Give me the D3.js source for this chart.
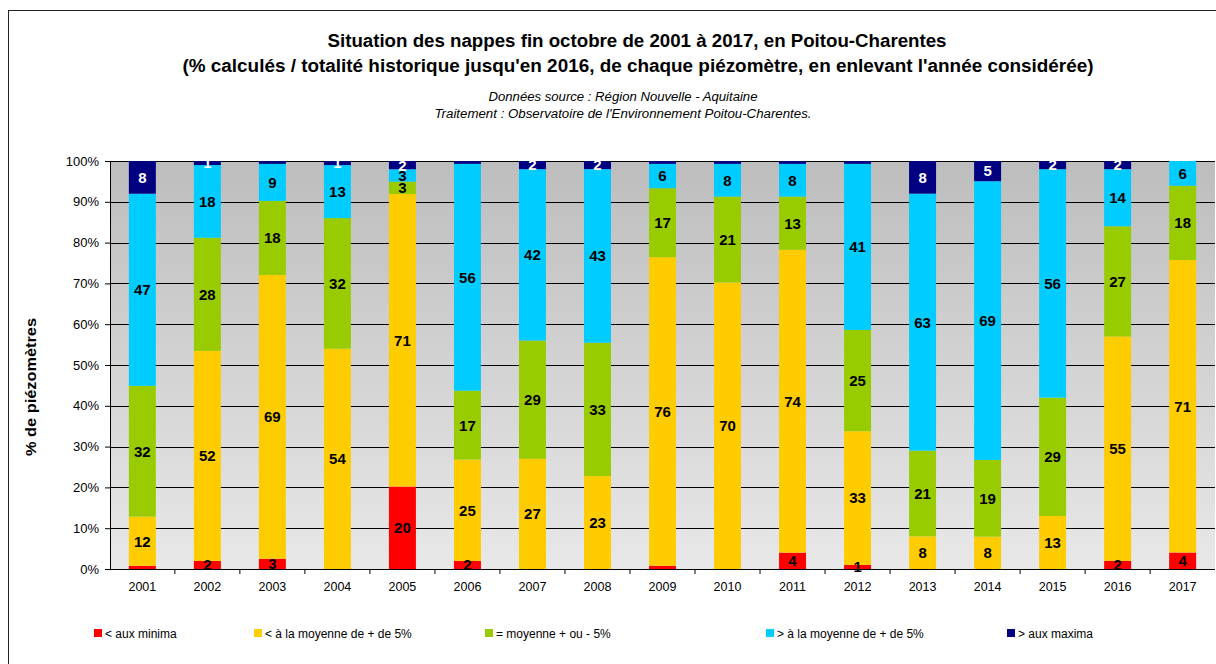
<!DOCTYPE html>
<html>
<head>
<meta charset="utf-8">
<script src="https://cdn.jsdelivr.net/npm/d3@7"></script>
<style>
  body { margin: 0; background: #fff; }
  svg { display: block; font-family: "Liberation Sans", Arial, sans-serif; }
</style>
</head>
<body>
<div id="chart"></div>
<script>
// years on the x axis
var years = ["2001","2002","2003","2004","2005","2006","2007","2008","2009",
             "2010","2011","2012","2013","2014","2015","2016","2017"];
// % of piezometers per class (tiny slivers estimated)
var minima   = [0.8, 2, 2.5, 0, 20, 2, 0, 0, 0.8, 0, 4, 1, 0, 0, 0, 2, 4];
var belowAvg = [12, 52, 69, 54, 71, 25, 27, 23, 76, 70, 74, 33, 8, 8, 13, 55, 71];
var avg      = [32, 28, 18, 32, 3, 17, 29, 33, 17, 21, 13, 25, 21, 19, 29, 27, 18];
var aboveAvg = [47, 18, 9, 13, 3, 56, 42, 43, 6, 8, 8, 41, 63, 69, 56, 14, 6];
var maxima   = [8, 1, 0.7, 1, 2, 0.7, 2, 2, 0.7, 0.7, 0.7, 0.7, 8, 5, 2, 2, 0];
var yTicks = [0, 0.1, 0.2, 0.3, 0.4, 0.5, 0.6, 0.7, 0.8, 0.9, 1];

var seriesNames = ["< aux minima", "< à la moyenne de + de 5%", "= moyenne + ou - 5%",
                   "> à la moyenne de + de 5%", "> aux maxima"];
var seriesKeys = ["minima", "belowAvg", "avg", "aboveAvg", "maxima"];
var colors = ["#ff0000", "#ffcc00", "#99cc00", "#00ccff", "#000080"];
var labelColors = ["#000", "#000", "#000", "#000", "#fff"];
var legendX = [94, 254, 485, 766, 1007];

var rows = years.map(function(y, i) {
  return { year: y, minima: minima[i], belowAvg: belowAvg[i], avg: avg[i],
           aboveAvg: aboveAvg[i], maxima: maxima[i] };
});

var width = 1216, height = 664;
var margin = {top: 161, right: 1, bottom: 95, left: 110};
var svg = d3.select("#chart").append("svg")
  .attr("width", width).attr("height", height);

// outer frame
svg.append("rect")
  .attr("x", 8.5).attr("y", 10.5)
  .attr("width", 1220).attr("height", 700)
  .attr("fill", "none").attr("stroke", "#222").attr("stroke-width", 1);

// titles (stretched to the width of the original Calibri text)
function title(xc, yb, size, len, txt, italic) {
  svg.append("text").attr("x", xc).attr("y", yb).attr("text-anchor", "middle")
    .attr("textLength", len).attr("lengthAdjust", "spacingAndGlyphs")
    .style("font-size", size + "px")
    .style("font-weight", italic ? "normal" : "bold")
    .style("font-style", italic ? "italic" : "normal")
    .text(txt);
}
title(637, 47, 17.5, 619, "Situation des nappes fin octobre de 2001 à 2017, en Poitou-Charentes");
title(638, 72, 17.5, 911, "(% calculés / totalité historique jusqu'en 2016, de chaque piézomètre,  en enlevant l'année considérée)");
title(623, 101, 12.5, 269, "Données source : Région Nouvelle - Aquitaine", true);
title(623, 118, 12.5, 377, "Traitement : Observatoire de l'Environnement Poitou-Charentes.", true);

var plotW = width - margin.left - margin.right;
var plotH = height - margin.top - margin.bottom;
var g = svg.append("g").attr("transform", "translate(" + margin.left + "," + margin.top + ")");

var x = d3.scaleBand().domain(years).range([0, plotW]).paddingInner(0.585).paddingOuter(0.29);
var y = d3.scaleLinear().domain([0, 1]).range([plotH, 0]);

// plot background gradient
var grad = svg.append("defs").append("linearGradient")
  .attr("id", "bg").attr("x1", 0).attr("y1", 0).attr("x2", 0).attr("y2", 1);
grad.append("stop").attr("offset", "0%").attr("stop-color", "#bdbdbd");
grad.append("stop").attr("offset", "100%").attr("stop-color", "#e8e8e8");
g.append("rect").attr("width", plotW).attr("height", plotH).attr("fill", "url(#bg)");

// gridlines
g.selectAll(".grid").data(yTicks.slice(1)).enter().append("line")
  .attr("x1", 0).attr("x2", plotW)
  .attr("y1", function(d) { return Math.round(y(d)) + 0.5; })
  .attr("y2", function(d) { return Math.round(y(d)) + 0.5; })
  .attr("stroke", "#000").attr("stroke-width", 1);

// stacked bars
var stack = d3.stack().keys(seriesKeys).offset(d3.stackOffsetExpand);
var layers = stack(rows);

var layer = g.selectAll(".layer").data(layers).enter().append("g")
  .attr("fill", function(d, i) { return colors[i]; });
layer.selectAll("rect").data(function(d) { return d; }).enter().append("rect")
  .attr("x", function(d) { return x(d.data.year); })
  .attr("width", x.bandwidth())
  .attr("y", function(d) { return y(d[1]); })
  .attr("height", function(d) { return y(d[0]) - y(d[1]); });

// value labels
layers.forEach(function(L, li) {
  g.selectAll(".lbl" + li).data(L.filter(function(d) { return d.data[L.key] >= 1; }))
    .enter().append("text")
    .attr("x", function(d) { return x(d.data.year) + x.bandwidth() / 2; })
    .attr("y", function(d) { return (y(d[0]) + y(d[1])) / 2; })
    .attr("dy", "0.36em")
    .attr("text-anchor", "middle")
    .style("font-size", "15px").style("font-weight", "bold")
    .style("fill", labelColors[li])
    .text(function(d) { return Math.round(d.data[L.key]); });
});

// axes
var yAxis = g.append("g")
  .call(d3.axisLeft(y).tickValues(yTicks).tickFormat(d3.format(".0%")).tickSize(5).tickPadding(6));
yAxis.selectAll("text").style("font-size", "13px").style("font-family", "Liberation Sans, Arial");
yAxis.select(".domain").attr("d", "M-5,0.5H0.5V" + (plotH + 0.5));

var xAxis = g.append("g").attr("transform", "translate(0," + (plotH + 0.5) + ")")
  .call(d3.axisBottom(x).tickSize(0).tickPadding(13));
xAxis.selectAll("text").style("font-size", "12.5px").style("font-family", "Liberation Sans, Arial");
xAxis.select(".domain").attr("d", "M0,0H" + plotW);
// tick marks between categories
g.selectAll(".sep").data(years.slice(1)).enter().append("line")
  .attr("x1", function(d) { return x(d) - x.step() * x.paddingInner() / 2; })
  .attr("x2", function(d) { return x(d) - x.step() * x.paddingInner() / 2; })
  .attr("y1", plotH).attr("y2", plotH + 5)
  .attr("stroke", "#000");

// y axis title
svg.append("text")
  .attr("transform", "translate(36,387) rotate(-90)")
  .attr("text-anchor", "middle")
  .attr("textLength", 138).attr("lengthAdjust", "spacingAndGlyphs")
  .style("font-size", "15px").style("font-weight", "bold")
  .text("% de piézomètres");

// legend
var legend = svg.selectAll(".legend").data(seriesNames).enter().append("g")
  .attr("transform", function(d, i) { return "translate(" + legendX[i] + ",629)"; });
legend.append("rect").attr("width", 8).attr("height", 8)
  .attr("fill", function(d, i) { return colors[i]; });
legend.append("text").attr("x", 11).attr("y", 8.5)
  .style("font-size", "12px")
  .text(function(d) { return d; });
</script>
</body>
</html>
